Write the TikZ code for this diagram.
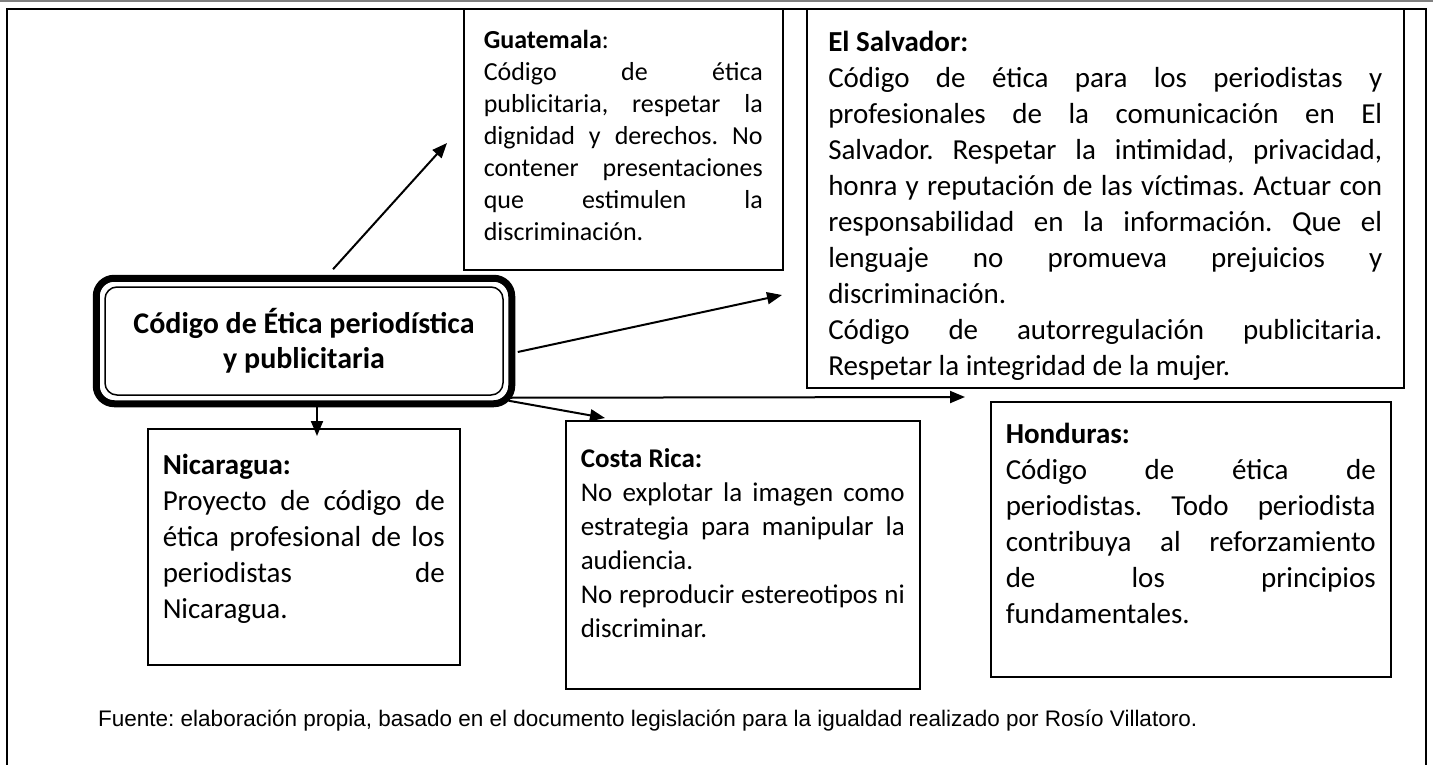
\documentclass[tikz,border=0pt]{standalone}
\usepackage{fontspec}
\setmainfont{Carlito}
\newfontfamily\arialfont{Liberation Sans}
\usetikzlibrary{arrows.meta}

\newcommand{\arriba}[1]{\rule{0pt}{#1pt}}
\newcommand{\abajo}[1]{\rule[-#1pt]{0pt}{#1pt}}

\begin{document}
\frenchspacing
\begin{tikzpicture}[x=1pt, y=-1pt,
  pais/.style={draw, line width=1.5pt, anchor=north west, align=justify,
    inner ysep=0pt, font=\fontsize{29}{36}\selectfont\frenchspacing},
  arr/.style={line width=2pt, -{Triangle[length=15pt,width=12pt]}}]
\useasboundingbox (0,0) rectangle (1433,765);
% page frame
\draw[gray, line width=2pt] (0,1.5) -- (1433,1.5);
\draw[line width=2.5pt] (7,765) -- (7,9) -- (1426,9) -- (1426,765);

% central node
\node[draw, line width=1.5pt, rounded corners=12pt, minimum width=398pt, minimum height=108pt,
  align=center, font=\fontsize{30}{35}\selectfont\bfseries] (etica) at (304,341)
  {Código de Ética periodística\\ y publicitaria};
\draw[line width=7pt, rounded corners=18pt] ([shift={(-8,8)}]etica.south west) rectangle ([shift={(8,-8)}]etica.north east);

\node[pais, text width=279pt, inner xsep=20pt, font=\fontsize{26}{32}\selectfont\frenchspacing] (gua) at (463,9)
  {\arriba{39}\textbf{Guatemala}:\\
   Código de ética\linebreak
   publicitaria, respetar la\linebreak
   dignidad y derechos. No\linebreak
   contener presentaciones\linebreak
   que estimulen la\linebreak
   discriminación.\abajo{29}};
\node[pais, text width=554pt, inner xsep=21.5pt] (sal) at (806,9)
  {\arriba{42}\textbf{El Salvador:}\\
   Código de ética para los periodistas y\linebreak
   profesionales de la comunicación en El\linebreak
   Salvador. Respetar la intimidad, privacidad,\linebreak
   honra y reputación de las víctimas. Actuar con\linebreak
   responsabilidad en la información. Que el\linebreak
   lenguaje no promueva prejuicios y\linebreak
   discriminación.\\
   Código de autorregulación publicitaria.\linebreak
   Respetar la integridad de la mujer.\abajo{12}};
\node[pais, text width=282pt, inner xsep=15pt] (nic) at (147,428)
  {\arriba{46}\textbf{Nicaragua:}\\
   Proyecto de código de\linebreak
   ética profesional de los\linebreak
   periodistas de\linebreak
   Nicaragua.\abajo{46}};
\node[pais, text width=324pt, inner xsep=15pt, font=\fontsize{27}{34}\selectfont\frenchspacing] (cos) at (565,420)
  {\arriba{47}\textbf{Costa Rica:}\\
   No~explotar~la~imagen~como\linebreak
   estrategia~para~manipular~la\linebreak
   audiencia.\\
   No~reproducir~estereotipos~ni\linebreak
   discriminar.\abajo{51}};
\node[pais, text width=370pt, inner xsep=15pt] (hon) at (990,401)
  {\arriba{42}\textbf{Honduras:}\\
   Código de ética de\linebreak
   periodistas. Todo periodista\linebreak
   contribuya al reforzamiento\linebreak
   de los principios\linebreak
   fundamentales.\abajo{53}};

% arrows
\coordinate (guaTip) at (447,143);
\coordinate (salTip) at (782,295);
\coordinate (honTip) at (965,397);
\coordinate (cosTip) at (605,418);
\draw[arr] ([shift={(29,-17)}]etica.north) -- (guaTip);
\draw[arr] ([shift={(14,11)}]etica.east) -- (salTip);
\draw[arr] ([shift={(7,2)}]etica.south east) -- (honTip);
\draw[arr] ([shift={(5,5)}]etica.south east) -- (cosTip);
\draw[arr] ([shift={(13,8)}]etica.south) -- ([shift={(13,8)}]etica.south |- nic.north);

\node[anchor=base west, inner sep=0pt, font=\arialfont\fontsize{22.5}{27}\selectfont] (fuente) at (98,726)
  {Fuente: elaboración propia, basado en el documento legislación para la igualdad realizado por Rosío Villatoro.};
\end{tikzpicture}
\end{document}
